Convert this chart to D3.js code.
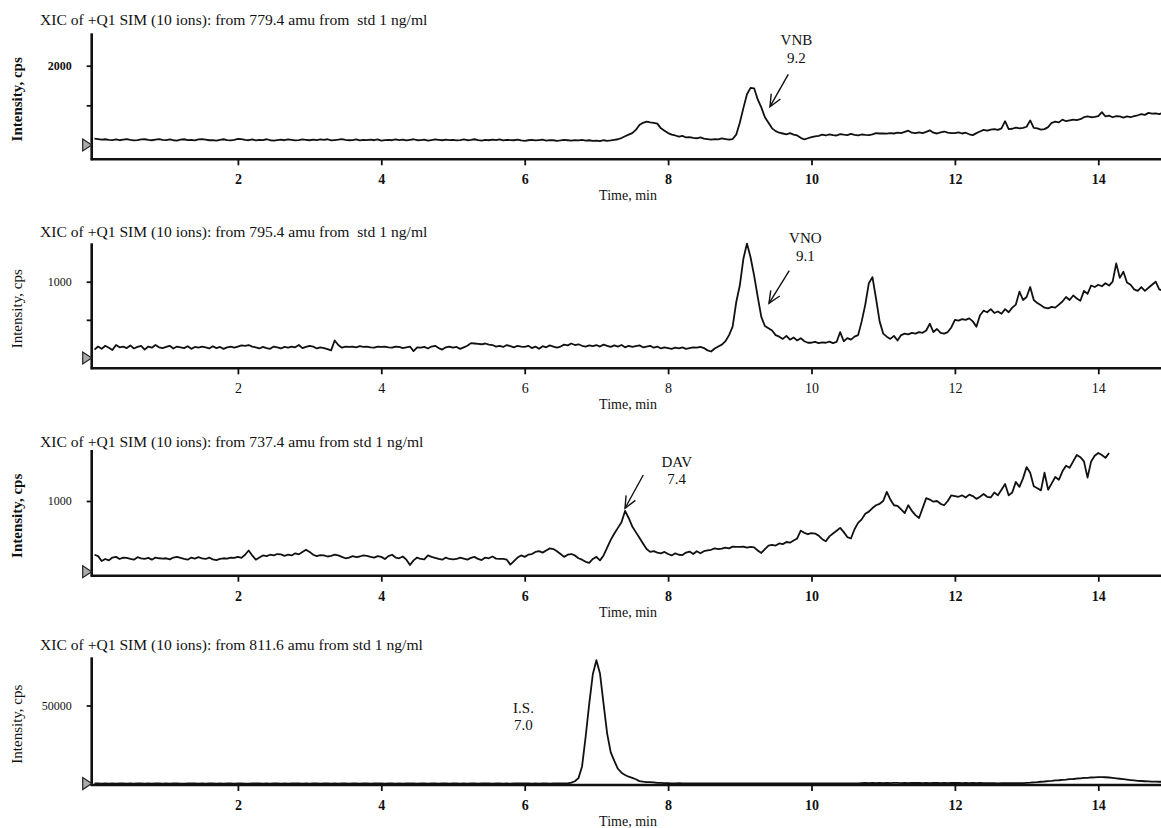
<!DOCTYPE html>
<html><head><meta charset="utf-8">
<script src="https://cdn.jsdelivr.net/npm/d3@7"></script>
<style>
html,body{margin:0;padding:0;background:#fff;}
svg{display:block;}
text{font-family:"Liberation Serif","Times New Roman",serif;fill:#111;}
</style></head><body>
<svg id="chart" width="1161" height="828"></svg>
<script>
// ---------- data ----------
const timeStep = 0.05; // minutes between acquired points, starting at 0 min
const xTicks = [2, 4, 6, 8, 10, 12, 14];
const titles = [
  "XIC of +Q1 SIM (10 ions): from 779.4 amu from  std 1 ng/ml",
  "XIC of +Q1 SIM (10 ions): from 795.4 amu from  std 1 ng/ml",
  "XIC of +Q1 SIM (10 ions): from 737.4 amu from std 1 ng/ml",
  "XIC of +Q1 SIM (10 ions): from 811.6 amu from std 1 ng/ml"
];
const yTickValues = [[1000, 2000], [500, 1000], [1000], [50000]];
const yTickLabels = [["", "2000"], ["", "1000"], ["1000"], ["50000"]];

// 779.4 amu (VNB)
const xic779 = [
 160,150,135,145,130,125,140,120,135,150,130,115,125,140,145,130,120,135,150,130,
 125,140,120,110,135,145,125,130,115,140,150,135,120,125,110,130,145,125,115,130,
 155,150,130,120,140,115,130,125,145,120,110,125,135,120,140,130,115,125,140,130,
 120,135,125,140,130,145,115,125,135,150,130,120,125,140,115,130,125,135,120,140,
 110,125,130,120,140,125,135,115,130,145,120,125,135,110,125,140,130,120,135,125,
 130,115,125,140,120,130,145,125,110,130,120,135,125,140,115,130,125,120,135,115,
 105,120,130,115,125,135,110,125,120,105,115,130,120,110,125,115,130,110,120,105,
 110,95,120,105,115,130,145,175,220,260,300,380,505,560,590,570,560,540,420,360,
 300,260,240,210,230,190,200,180,170,190,160,150,135,150,140,165,150,135,150,260,
 560,930,1280,1440,1430,1150,950,700,560,420,350,310,290,270,300,260,240,180,140,170,
 200,220,230,260,240,270,250,240,275,260,250,280,255,240,265,255,250,270,300,290,
 290,285,300,290,310,300,330,360,310,300,320,300,330,370,310,290,320,340,310,300,
 300,320,290,310,270,250,300,340,380,360,390,400,380,420,600,400,410,440,420,430,
 460,620,430,420,390,400,450,560,590,570,640,600,620,640,630,650,700,720,700,710,
 730,830,720,740,700,730,720,690,720,700,730,750,780,760,810,790,800,780,810,800
];
// 795.4 amu (VNO)
const xic795 = [
 110,150,120,160,135,105,170,140,150,130,165,125,145,160,110,150,135,170,140,130,
 145,160,125,150,140,130,155,120,145,135,150,140,125,155,130,145,120,140,150,135,
 150,165,160,170,150,140,125,145,130,120,150,140,125,145,135,150,140,170,130,145,
 160,150,125,140,130,115,100,230,170,135,150,145,150,140,155,145,150,140,135,150,
 145,150,140,135,150,145,130,140,150,90,140,135,145,125,150,160,130,110,140,150,
 135,145,120,140,160,195,190,185,180,190,175,170,150,160,145,170,155,140,160,150,
 145,160,130,150,120,155,140,165,150,135,150,175,165,190,170,180,160,150,165,155,
 170,150,175,160,145,165,150,170,140,160,145,155,165,140,150,160,135,150,125,140,
 130,120,135,125,140,120,130,140,135,145,130,100,85,125,150,175,220,300,410,730,
 950,1300,1500,1320,1080,800,540,420,390,360,300,280,250,290,240,270,230,260,220,200,
 200,210,195,205,200,215,195,210,340,220,260,240,280,300,480,700,980,1060,780,480,
 320,280,250,290,230,300,320,310,330,320,340,330,360,450,340,380,330,320,340,400,
 500,490,510,500,520,480,410,560,620,600,640,590,610,580,640,600,660,700,870,760,
 800,930,760,720,690,660,650,670,660,700,740,800,760,820,780,750,880,840,950,930,
 960,940,980,950,1000,1240,1050,1130,990,960,900,880,930,880,920,960,1000,900,880,870
];
// 737.4 amu (DAV)
const xic737 = [
 240,220,150,180,160,200,210,180,200,195,180,170,205,190,180,195,170,200,190,185,
 190,175,200,210,195,180,170,200,185,205,190,180,200,175,165,180,190,185,200,195,
 210,195,240,300,230,170,200,230,220,240,230,250,245,225,240,230,260,245,280,310,
 280,240,220,235,230,215,225,240,230,210,190,200,220,205,215,230,225,210,200,220,
 210,180,220,240,200,190,215,170,95,160,200,180,175,230,210,195,180,170,200,180,
 175,180,200,185,170,195,210,180,165,200,190,215,185,180,180,170,100,150,200,230,
 210,240,250,280,290,270,300,330,320,290,250,210,240,250,230,190,170,140,125,180,
 210,160,230,340,450,540,620,700,860,760,640,560,480,400,320,280,290,270,260,280,
 250,230,260,240,235,270,285,250,290,260,290,300,310,330,320,325,340,330,355,350,
 350,355,340,350,345,300,265,320,370,380,370,400,390,420,410,440,470,580,550,530,
 545,540,510,460,430,500,540,580,620,560,490,470,600,690,740,820,850,900,940,960,
 1000,1130,1020,940,930,880,830,940,860,800,760,900,1040,1020,990,1000,960,940,1000,1080,
 1070,1060,1080,1050,1090,1070,1030,1060,1100,1060,1050,1120,1080,1160,1240,1080,1120,1270,1200,1320,
 1480,1400,1210,1180,1150,1400,1160,1250,1340,1300,1420,1500,1470,1560,1650,1620,1560,1330,1560,1640,
 1680,1650,1610,1680
];
// 811.6 amu (internal standard)
const xic811 = [
 50,80,20,60,40,70,30,50,90,40,60,20,70,50,40,80,30,60,50,40,
 60,30,50,70,40,20,60,50,80,40,50,30,70,60,40,50,20,60,70,40,
 50,70,40,30,60,50,80,40,50,20,60,70,40,50,30,60,50,70,40,60,
 40,60,50,30,70,50,40,60,20,50,70,40,60,50,30,50,70,40,60,50,
 50,40,70,60,30,50,40,70,50,60,20,50,60,40,70,50,30,60,50,40,
 60,50,30,70,40,60,50,20,60,50,70,40,50,60,30,50,40,70,60,50,
 50,70,40,60,30,50,70,40,60,50,80,60,200,600,1500,3500,11000,30000,51000,70000,
 79000,70500,51000,32000,20000,14500,9500,7000,5500,4400,3700,2800,1600,1200,1000,900,800,500,400,300,
 250,200,180,220,160,200,180,150,190,170,200,160,180,150,170,190,160,180,150,170,
 180,150,170,160,190,150,180,170,150,160,200,170,150,180,160,170,190,150,170,160,
 170,160,180,150,170,190,160,150,180,170,160,190,170,150,300,400,350,450,300,400,
 350,450,300,500,400,350,450,300,420,380,460,330,400,350,450,380,300,420,350,400,
 380,450,350,400,300,420,350,380,250,300,220,250,200,230,260,210,240,280,300,350,
 450,600,820,950,1180,1350,1620,1780,2050,2150,2420,2580,2850,2950,3250,3350,3620,3700,3920,3980,
 4200,4150,4050,3900,3700,3400,3100,2800,2500,2250,2000,1800,1650,1500,1400,1300,1250,1200,1150,1100
];
const seriesList = [xic779, xic795, xic737, xic811];

// peak annotations: tip/tail of arrows and label anchor in (time, intensity) units
const annotations = [
  {panel: 0, name: "VNB", rt: "9.2", labelT: 9.79, labelV: 2648, tail: [9.676, 1783], tip: [9.421, 966]},
  {panel: 1, name: "VNO", rt: "9.1", labelT: 9.914, labelV: 1573, tail: [9.690, 1144], tip: [9.407, 717]},
  {panel: 2, name: "DAV", rt: "7.4", labelT: 8.12, labelV: 1556, tail: [7.654, 1368], tip: [7.399, 897]},
  {panel: 3, name: "I.S.", rt: "7.0", labelT: 5.983, labelV: 48700, tail: null, tip: null}
];

// ---------- layout (pixels) ----------
const panelLayout = [
  {top: 33.3,  bottom: 159.3, zeroY: 145,   refV: 2000,  refY: 65.7,  titleY: 20,    heavy: true},
  {top: 243.3, bottom: 368.3, zeroY: 358,   refV: 1000,  refY: 281.7, titleY: 232,   heavy: false},
  {top: 450,   bottom: 575.7, zeroY: 571.7, refV: 1000,  refY: 501,   titleY: 441.7, heavy: true},
  {top: 657.3, bottom: 785,   zeroY: 783.6, refV: 50000, refY: 705.5, titleY: 645,   heavy: false}
];
const axisX = 91.7;
const W = 1161;

const svg = d3.select("#chart");
svg.append("rect").attr("width", W).attr("height", 828).attr("fill", "#fff");

const x = d3.scaleLinear().domain([0, 15]).range([94.5, 94.5 + 15 * 71.7]);

panelLayout.forEach((L, p) => {
  const y = d3.scaleLinear().domain([0, L.refV]).range([L.zeroY, L.refY]);
  const g = svg.append("g");

  // title
  g.append("text")
    .attr("x", 40).attr("y", L.titleY + 5)
    .style("font-size", "15.6px")
    .style("white-space", "pre")
    .text(titles[p]);

  // y label
  g.append("text")
    .attr("transform", `translate(17,${(L.top + L.bottom) / 2 + 3}) rotate(-90)`)
    .attr("text-anchor", "middle").attr("dy", "0.35em")
    .style("font-size", "15px")
    .style("font-weight", L.heavy ? "bold" : "normal")
    .text("Intensity, cps");

  // x axis
  const xa = g.append("g").attr("transform", `translate(0,${L.bottom})`)
    .call(d3.axisBottom(x).tickValues(xTicks).tickSize(6).tickPadding(9).tickFormat(d3.format("d")));
  xa.select(".domain").remove();
  xa.selectAll(".tick line").attr("stroke", "#111").attr("stroke-width", 1.8);
  xa.selectAll(".tick text")
    .style("font-family", '"Liberation Serif","Times New Roman",serif')
    .style("font-size", "14px")
    .style("font-weight", p === 1 ? "normal" : "bold")
    .attr("fill", "#111");
  g.append("line")
    .attr("x1", axisX - 1).attr("x2", W)
    .attr("y1", L.bottom).attr("y2", L.bottom)
    .attr("stroke", "#111").attr("stroke-width", 2.6);

  // y axis
  const ya = g.append("g").attr("transform", `translate(${axisX},0)`)
    .call(d3.axisLeft(y).tickValues(yTickValues[p]).tickSize(5).tickPadding(15)
      .tickFormat((d, i) => yTickLabels[p][i]));
  ya.select(".domain").remove();
  ya.selectAll(".tick line").attr("stroke", "#111").attr("stroke-width", 1.8);
  ya.selectAll(".tick text")
    .style("font-family", '"Liberation Serif","Times New Roman",serif')
    .style("font-size", "12px")
    .style("font-weight", p === 0 ? "bold" : "normal")
    .attr("fill", "#111");
  g.append("line")
    .attr("x1", axisX).attr("x2", axisX)
    .attr("y1", L.top).attr("y2", L.bottom + 1)
    .attr("stroke", "#111").attr("stroke-width", 2.6);

  // zero marker triangle
  const z = y(0);
  g.append("path")
    .attr("d", `M${axisX - 9},${z - 6}L${axisX},${z}L${axisX - 9},${z + 6}Z`)
    .attr("fill", "#aaa").attr("stroke", "#222").attr("stroke-width", 1.2);

  // x title
  g.append("text")
    .attr("x", 628).attr("y", L.bottom + 36).attr("dy", "0.35em")
    .attr("text-anchor", "middle")
    .style("font-size", "14px")
    .text("Time, min");

  // trace
  const line = d3.line()
    .x((d, i) => x(i * timeStep))
    .y(d => y(d));
  g.append("path")
    .datum(seriesList[p])
    .attr("d", line)
    .attr("fill", "none")
    .attr("stroke", "#111")
    .attr("stroke-width", 1.8)
    .attr("stroke-linejoin", "round");

  // annotations
  annotations.filter(a => a.panel === p).forEach(a => {
    const lx = x(a.labelT), ly = y(a.labelV);
    g.append("text").attr("x", lx).attr("y", ly).attr("dy", "0.35em")
      .attr("text-anchor", "middle").style("font-size", "15px").text(a.name);
    g.append("text").attr("x", lx).attr("y", ly + 17.5).attr("dy", "0.35em")
      .attr("text-anchor", "middle").style("font-size", "15px").text(a.rt);
    if (a.tail) {
      const x1 = x(a.tail[0]), y1 = y(a.tail[1]);
      const x2 = x(a.tip[0]), y2 = y(a.tip[1]);
      g.append("line").attr("x1", x1).attr("y1", y1).attr("x2", x2).attr("y2", y2)
        .attr("stroke", "#111").attr("stroke-width", 1.4);
      const ang = Math.atan2(y1 - y2, x1 - x2);
      const len = 13, spread = 0.42;
      const pts = [ang - spread, ang + spread].map(t => [x2 + len * Math.cos(t), y2 + len * Math.sin(t)]);
      g.append("path")
        .attr("d", `M${pts[0][0]},${pts[0][1]}L${x2},${y2}L${pts[1][0]},${pts[1][1]}`)
        .attr("fill", "none").attr("stroke", "#111").attr("stroke-width", 1.4);
    }
  });
});
</script>
</body></html>
